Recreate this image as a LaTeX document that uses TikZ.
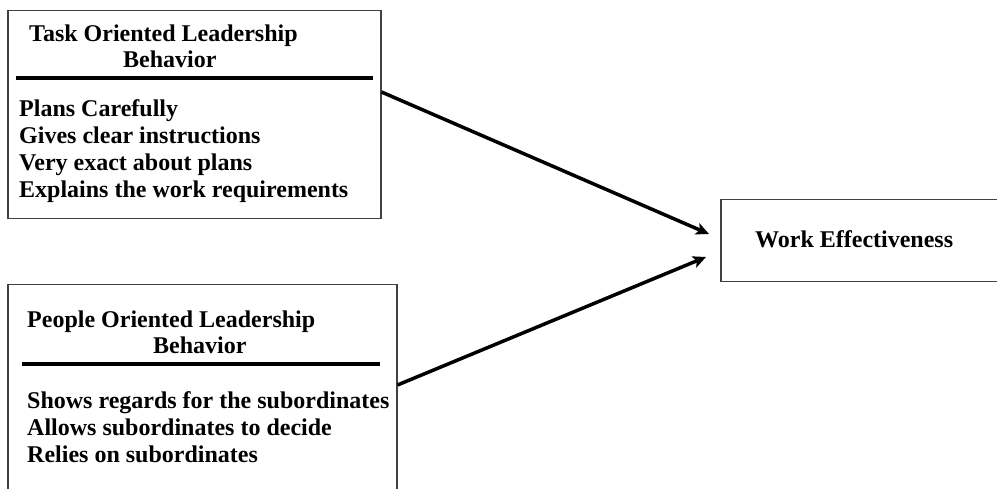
\documentclass[tikz,border=0pt]{standalone}
\usepackage{fontspec}
\setmainfont{Liberation Serif}
\usetikzlibrary{arrows.meta}
\definecolor{boxgray}{HTML}{404040}
\begin{document}
\begin{tikzpicture}[x=1pt,y=-1pt,
  boxshape/.style={draw=boxgray,line width=1.5pt,rectangle,anchor=north west,inner sep=0pt},
  txt/.style={anchor=base west,inner sep=0pt,font=\fontsize{24}{27}\selectfont\bfseries},
  rulebar/.style={line width=3.5pt,black},
  arr/.style={line width=3.5pt,black,-{Stealth[length=13pt,width=12pt,inset=3pt]}}]
\useasboundingbox (0,0) rectangle (997,489);
\clip (0,0) rectangle (997,489);
% boxes
\node[boxshape,minimum width=373pt,minimum height=208pt] (b1) at (7,10) {};
\node[boxshape,minimum width=389pt,minimum height=230pt] (b2) at (7,284) {};
\node[boxshape,minimum width=300pt,minimum height=82pt] (b3) at (720,199) {};
% box 1 text
\node[txt] (t1a) at (29,42) {Task Oriented Leadership};
\node[txt] (t1b) at (123,68) {Behavior};
\coordinate (r1a) at (16,78);
\coordinate (r1b) at (373,78);
\draw[rulebar] (r1a) -- (r1b);
\node[txt] (l11) at (19,117) {Plans Carefully};
\node[txt] (l12) at (19,144) {Gives clear instructions};
\node[txt] (l13) at (19,171) {Very exact about plans};
\node[txt] (l14) at (19,198) {Explains the work requirements};
% box 2 text
\node[txt] (t2a) at (27,327) {People Oriented Leadership};
\node[txt] (t2b) at (153,354) {Behavior};
\coordinate (r2a) at (22,364);
\coordinate (r2b) at (380,364);
\draw[rulebar] (r2a) -- (r2b);
\node[txt] (l21) at (27,408) {Shows regards for the subordinates};
\node[txt] (l22) at (27,435) {Allows subordinates to decide};
\node[txt] (l23) at (27,462) {Relies on subordinates};
% box 3 text
\node[txt] (t3) at (755,248) {Work Effectiveness};
% arrows
\coordinate (e1) at (709,234);
\coordinate (e2) at (706,257);
\draw[arr] ([yshift=-82pt]b1.north east) -- (e1);
\draw[arr] ([yshift=-101pt]b2.north east) -- (e2);
\end{tikzpicture}
\end{document}
